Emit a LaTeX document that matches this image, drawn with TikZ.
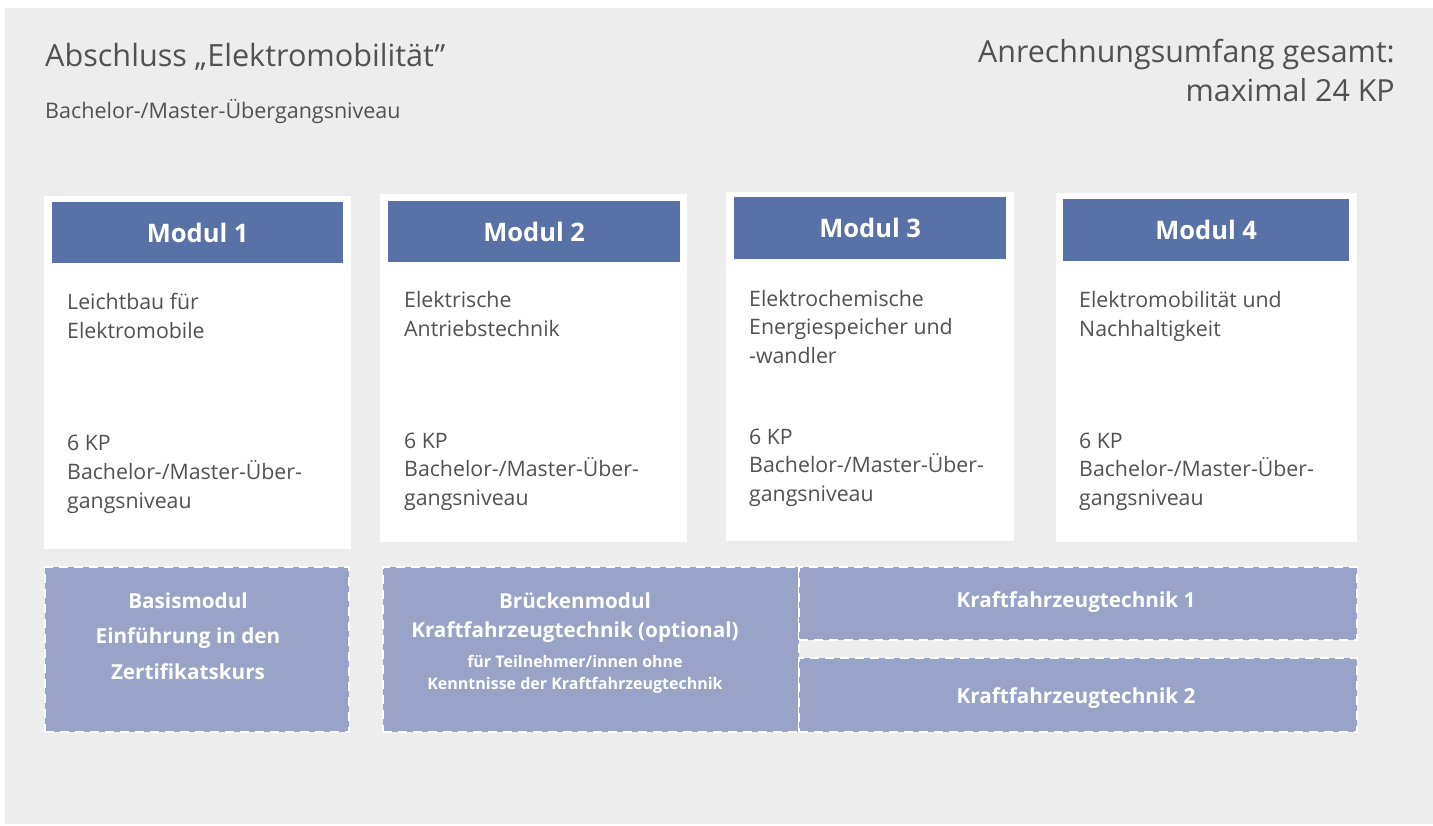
\documentclass[tikz,border=0pt]{standalone}
\usepackage{fontspec}
\setmainfont{Open Sans}
\definecolor{bggray}{HTML}{EDEDED}
\definecolor{hdrblue}{HTML}{5872A8}
\definecolor{boxblue}{HTML}{99A3C7}
\definecolor{txtgray}{HTML}{515151}
\begin{document}
\begin{tikzpicture}[x=1pt,y=-1pt,
  card/.style={fill=white, draw=none, rectangle, inner sep=0pt, anchor=north west},
  hdr/.style={fill=hdrblue, draw=none, rectangle, inner sep=0pt, anchor=north west},
  hdrtext/.style={text=white, font=\fontsize{25.5}{30}\selectfont\bfseries, inner sep=0pt},
  bodytext/.style={text=txtgray, font=\fontsize{21.3}{28.8}\selectfont, align=left, inner sep=0pt, anchor=base west},
  dbox/.style={fill=boxblue, draw=white, line width=2pt, dash pattern=on 9pt off 6pt, rectangle, inner sep=0pt, anchor=north west},
  boxtext/.style={text=white, font=\fontsize{20.7}{35.5}\selectfont\bfseries, align=center, inner sep=0pt, anchor=base},
]
\useasboundingbox (0,0) rectangle (1433,825);
\fill[bggray] (5,8) rectangle (1433,824);

% titles (anchor base = baseline of last line)
\node[text=txtgray, font=\fontsize{30.6}{36}\selectfont, inner sep=0pt, anchor=base west] (title) at (45,66) {Abschluss „Elektromobilität”};
\node[text=txtgray, font=\fontsize{21.5}{25}\selectfont, inner sep=0pt, anchor=base west] (subtitle) at (45,118) {Bachelor-/Master-Übergangsniveau};
\node[text=txtgray, font=\fontsize{30.4}{39}\selectfont, inner sep=0pt, anchor=base east, align=right] (total) at (1395,101) {Anrechnungsumfang gesamt:\\maximal 24 KP};

% module cards
\node[card, minimum width=307pt, minimum height=353pt] (card1) at (44,196) {};
\node[hdr, minimum width=291pt, minimum height=61pt] (hdr1) at (52,202) {};
\node[hdrtext] at (hdr1.center) {Modul 1};
\node[bodytext] (name1) at (67,338.6) {Leichtbau für\\Elektromobile};
\node[bodytext] (kp1) at (67,508.4) {6 KP\\Bachelor-/Master-Über-\\gangsniveau};

\node[card, minimum width=307pt, minimum height=348pt] (card2) at (380,194) {};
\node[hdr, minimum width=292pt, minimum height=61pt] (hdr2) at (388,201) {};
\node[hdrtext] at (hdr2.center) {Modul 2};
\node[bodytext] (name2) at (404,336) {Elektrische\\Antriebstechnik};
\node[bodytext] (kp2) at (404,505.6) {6 KP\\Bachelor-/Master-Über-\\gangsniveau};

\node[card, minimum width=288pt, minimum height=349pt] (card3) at (726,192) {};
\node[hdr, minimum width=272pt, minimum height=62pt] (hdr3) at (734,197) {};
\node[hdrtext] at (hdr3.center) {Modul 3};
\node[bodytext] (name3) at (749,363.6) {Elektrochemische\\Energiespeicher und\\-wandler};
\node[bodytext] (kp3) at (749,501.6) {6 KP\\Bachelor-/Master-Über-\\gangsniveau};

\node[card, minimum width=301pt, minimum height=349pt] (card4) at (1056,193) {};
\node[hdr, minimum width=286pt, minimum height=62pt] (hdr4) at (1063,199) {};
\node[hdrtext] at (hdr4.center) {Modul 4};
\node[bodytext] (name4) at (1079,336) {Elektromobilität und\\Nachhaltigkeit};
\node[bodytext] (kp4) at (1079,505.6) {6 KP\\Bachelor-/Master-Über-\\gangsniveau};

% dashed boxes
\node[dbox, minimum width=304pt, minimum height=165pt] (basis) at (44,566) {};
\node[boxtext] (basist) at (188,679) {Basismodul\\Einführung in den\\Zertifikatskurs};

\node[dbox, minimum width=416pt, minimum height=165pt] (bruecke) at (382,566) {};
\node[boxtext, font=\fontsize{20.7}{29}\selectfont\bfseries] (brueckt) at (575,637) {Brückenmodul\\Kraftfahrzeugtechnik (optional)};
\node[boxtext, font=\fontsize{16}{22}\selectfont\bfseries] (brueckn) at (575,689) {für Teilnehmer/innen ohne\\Kenntnisse der Kraftfahrzeugtechnik};

\node[dbox, minimum width=558pt, minimum height=73pt] (kfz1) at (798,566) {};
\node[boxtext] (kfz1t) at (1076,607) {Kraftfahrzeugtechnik 1};
\node[dbox, minimum width=558pt, minimum height=74pt] (kfz2) at (798,657) {};
\node[boxtext] (kfz2t) at (1076,703) {Kraftfahrzeugtechnik 2};
\end{tikzpicture}
\end{document}
